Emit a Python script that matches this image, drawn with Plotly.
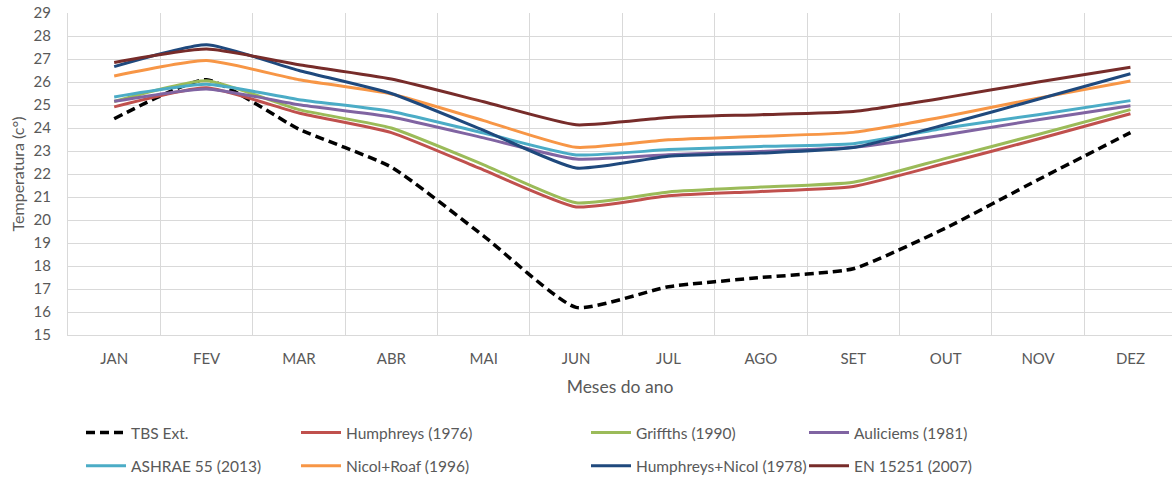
import plotly.graph_objects as go

months = ["JAN", "FEV", "MAR", "ABR", "MAI", "JUN", "JUL", "AGO", "SET", "OUT", "NOV", "DEZ"]

tbs_ext = [24.4, 26.1, 23.95, 22.3, 19.3, 16.2, 17.1, 17.5, 17.88, 19.65, 21.75, 23.8]
humphreys = [24.92, 25.75, 24.65, 23.8, 22.17, 20.57, 21.05, 21.24, 21.46, 22.47, 23.52, 24.62]
griffths = [25.15, 26.05, 24.8, 24.0, 22.4, 20.75, 21.22, 21.43, 21.64, 22.68, 23.72, 24.8]
auliciems = [25.16, 25.7, 25.01, 24.48, 23.57, 22.65, 22.84, 22.98, 23.16, 23.71, 24.36, 24.97]
ashrae = [25.35, 25.9, 25.23, 24.72, 23.78, 22.83, 23.06, 23.2, 23.32, 24.0, 24.58, 25.19]
nicol_roaf = [26.26, 26.93, 26.1, 25.48, 24.32, 23.16, 23.49, 23.64, 23.81, 24.5, 25.3, 26.04]
humphreys_nicol = [26.67, 27.62, 26.5, 25.5, 23.9, 22.26, 22.77, 22.91, 23.15, 24.15, 25.25, 26.36]
en15251 = [26.85, 27.43, 26.75, 26.13, 25.14, 24.14, 24.46, 24.58, 24.72, 25.32, 26.0, 26.64]

series = [
    ("TBS Ext.", tbs_ext, "#000000", "9px,5px", "legend", 1),
    ("Humphreys (1976)", humphreys, "#C0504D", "solid", "legend2", 1),
    ("Griffths (1990)", griffths, "#9BBB59", "solid", "legend3", 1),
    ("Auliciems (1981)", auliciems, "#8064A2", "solid", "legend4", 1),
    ("ASHRAE 55 (2013)", ashrae, "#4BACC6", "solid", "legend", 2),
    ("Nicol+Roaf (1996)", nicol_roaf, "#F79646", "solid", "legend2", 2),
    ("Humphreys+Nicol (1978)", humphreys_nicol, "#1F497D", "solid", "legend3", 2),
    ("EN 15251 (2007)", en15251, "#772C2A", "solid", "legend4", 2),
]

FONT = "Lato"
TXT = "#595959"

fig = go.Figure()
for name, vals, col, dash, leg, grp in series:
    fig.add_trace(go.Scatter(
        x=months, y=vals, name=name, mode="lines",
        line=dict(color=col, width=3.5 if name == "TBS Ext." else 3, dash=dash,
                  shape="spline", smoothing=0.5),
        legend=leg, legendgroup=f"{leg}_{grp}", legendrank=grp,
    ))

W, H = 1172, 478
L, T, B = 68, 13, 143
PW, PH = W - L, H - T - B

def leg(xpx, ypx):
    return dict(x=(xpx - L) / PW, y=(H - B - ypx) / PH,
                xanchor="left", yanchor="top", orientation="v",
                bgcolor="rgba(0,0,0,0)", tracegroupgap=10,
                font=dict(family=FONT, size=15.5, color=TXT), itemwidth=40)

fig.update_layout(
    width=W, height=H,
    margin=dict(l=L, r=0, t=T, b=B, pad=0, autoexpand=False),
    paper_bgcolor="white", plot_bgcolor="white",
    font=dict(family=FONT, size=15, color=TXT),
    showlegend=True,
    legend=leg(81, 416),
    legend2=leg(296, 416),
    legend3=leg(586, 416),
    legend4=leg(804, 416),
    xaxis=dict(
        type="category", categoryorder="array", categoryarray=months,
        range=[-0.5, 11.45], tickson="boundaries",
        showgrid=True, gridcolor="#D9D9D9", gridwidth=1,
        showline=True, linecolor="#D9D9D9", linewidth=1,
        ticks="", ticklabelstandoff=10,
        tickfont=dict(family=FONT, size=15, color=TXT),
        title=dict(text="Meses do ano", font=dict(family=FONT, size=17.5, color=TXT), standoff=14),
        automargin=False, fixedrange=True,
    ),
    yaxis=dict(
        range=[15, 29], dtick=1, tick0=15,
        showgrid=True, gridcolor="#D9D9D9", gridwidth=1,
        showline=True, linecolor="#D9D9D9", linewidth=1,
        zeroline=False,
        ticks="outside", ticklen=13, tickcolor="rgba(0,0,0,0)",
        tickfont=dict(family=FONT, size=15, color=TXT),
        title=dict(text="Temperatura (c°)", font=dict(family=FONT, size=16, color=TXT), standoff=4),
        automargin=False, fixedrange=True,
    ),
)

fig.write_html("out.html")
